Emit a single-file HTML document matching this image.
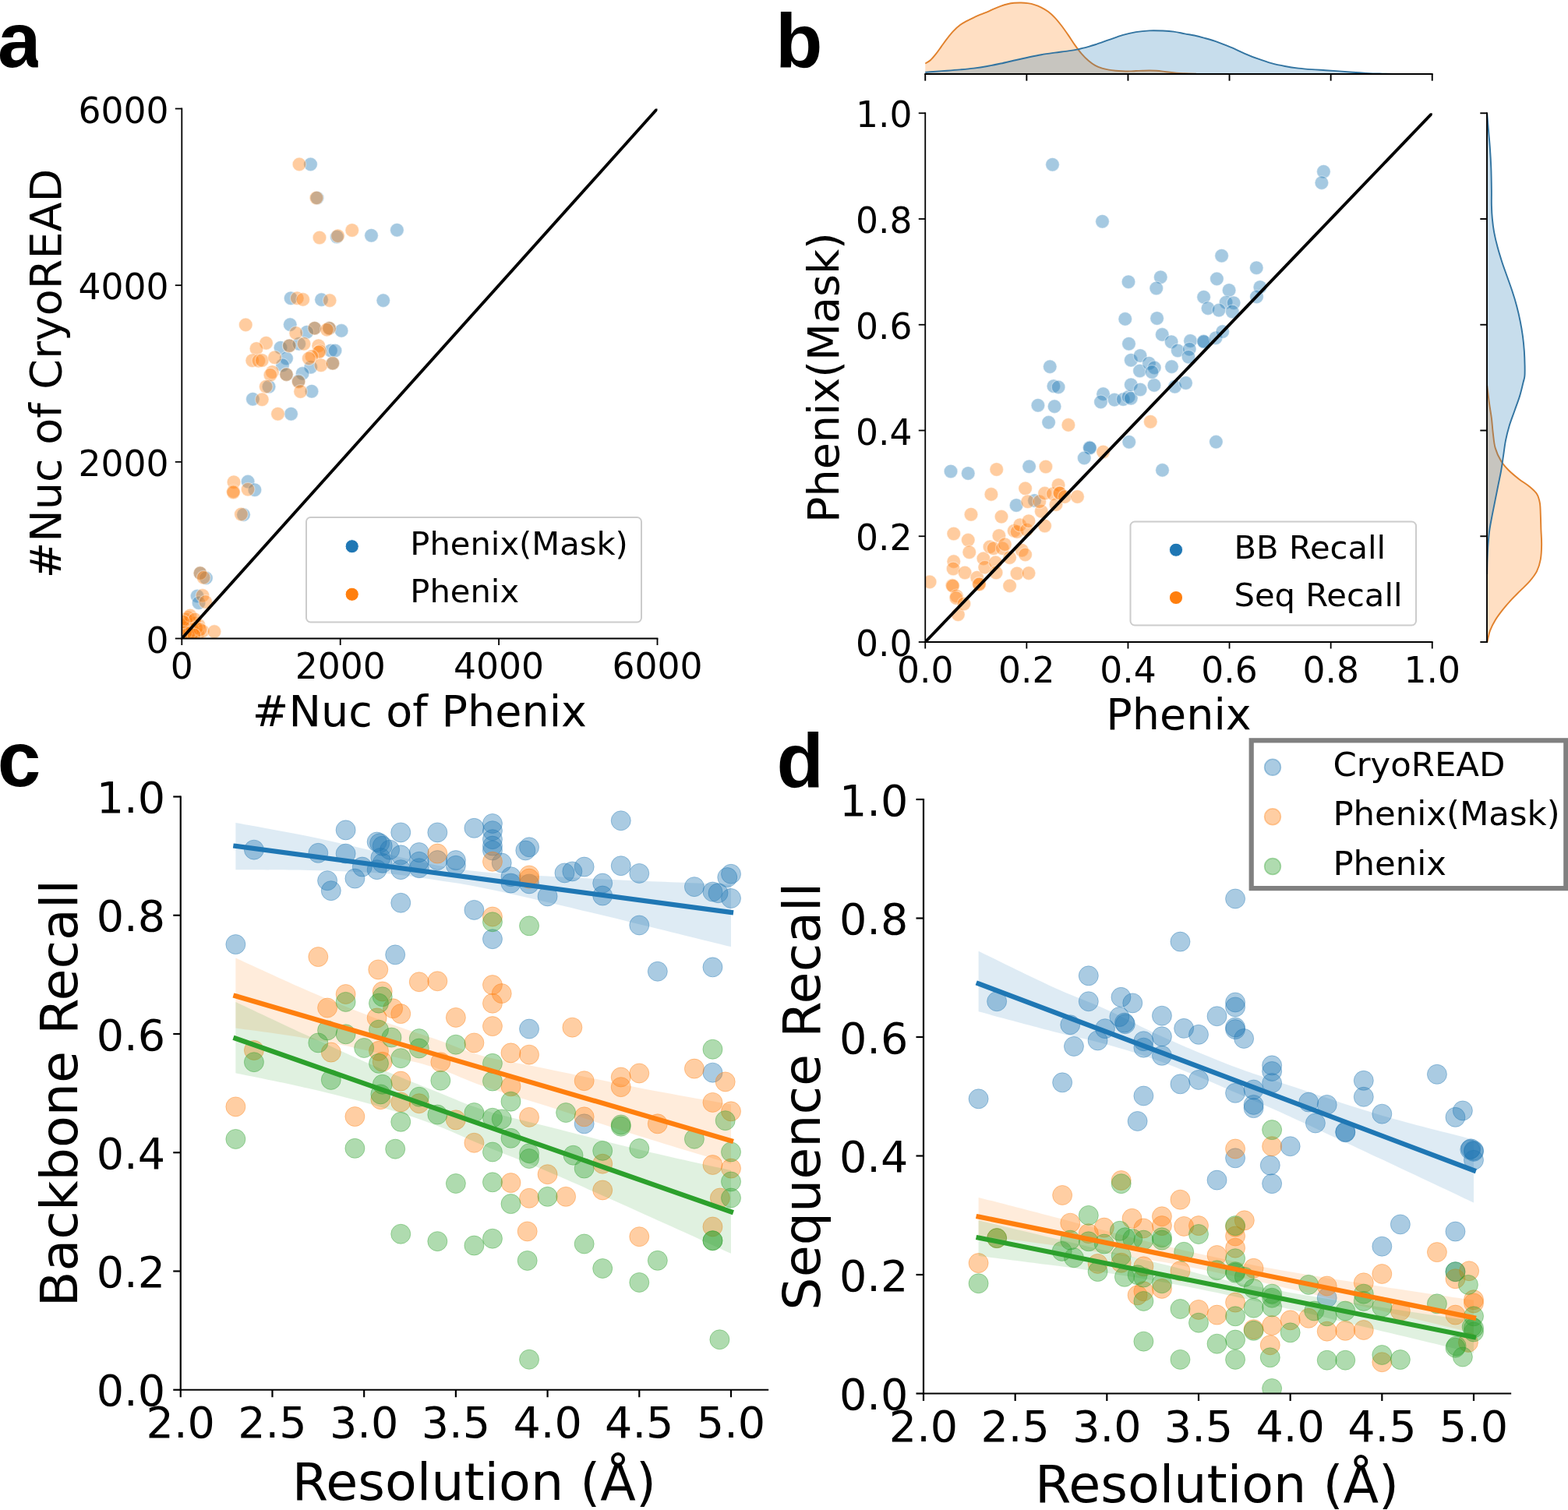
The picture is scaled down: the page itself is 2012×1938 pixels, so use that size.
<!DOCTYPE html>
<html lang="en"><head><meta charset="utf-8"><title>Figure</title>
<style>
html,body{margin:0;padding:0;background:#fff;}
body{width:2012px;height:1938px;overflow:hidden;}
svg{display:block;}
text{font-family:'DejaVu Sans','Liberation Sans',sans-serif;fill:#000;}
</style></head><body>
<svg width="2012" height="1938" viewBox="0 0 2012 1938">
<rect width="2012" height="1938" fill="#fff"/>
<clipPath id="cla"><rect x="-10" y="0" width="58.8" height="120"/></clipPath>
<text x="-3" y="86" font-size="100" text-anchor="start" font-weight="bold" style="font-family:'Liberation Sans','DejaVu Sans',sans-serif" clip-path="url(#cla)">a</text>
<text x="995" y="86.4" font-size="99" text-anchor="start" font-weight="bold" style="font-family:'Liberation Sans','DejaVu Sans',sans-serif">b</text>
<text x="-3.3" y="1009.4" font-size="100" text-anchor="start" font-weight="bold" style="font-family:'Liberation Sans','DejaVu Sans',sans-serif">c</text>
<text x="996.4" y="1009.6" font-size="99" text-anchor="start" font-weight="bold" style="font-family:'Liberation Sans','DejaVu Sans',sans-serif">d</text>
<clipPath id="cl1"><rect x="233.3" y="139.5" width="610.2" height="680"/></clipPath>
<g fill="#1f77b4" fill-opacity="0.4" stroke="#fff" stroke-width="1.2" stroke-opacity="0.4" clip-path="url(#cl1)">
<circle cx="403.75" cy="421.25" r="8.8"/>
<circle cx="422.5" cy="421.25" r="8.8"/>
<circle cx="426.9" cy="466.25" r="8.8"/>
<circle cx="398.5" cy="210.9" r="8.8"/>
<circle cx="407" cy="254" r="8.8"/>
<circle cx="432.25" cy="304" r="8.8"/>
<circle cx="476.5" cy="302.25" r="8.8"/>
<circle cx="509.4" cy="295.25" r="8.8"/>
<circle cx="373.1" cy="382.75" r="8.8"/>
<circle cx="412.5" cy="384.6" r="8.8"/>
<circle cx="491.75" cy="385.6" r="8.8"/>
<circle cx="372.25" cy="416.6" r="8.8"/>
<circle cx="438.1" cy="424.4" r="8.8"/>
<circle cx="393.75" cy="426.25" r="8.8"/>
<circle cx="360" cy="446.25" r="8.8"/>
<circle cx="371.25" cy="443.75" r="8.8"/>
<circle cx="383.75" cy="441.25" r="8.8"/>
<circle cx="424.4" cy="450" r="8.8"/>
<circle cx="430" cy="450" r="8.8"/>
<circle cx="367.5" cy="460" r="8.8"/>
<circle cx="362.5" cy="468.75" r="8.8"/>
<circle cx="398.75" cy="471.25" r="8.8"/>
<circle cx="388.1" cy="479.4" r="8.8"/>
<circle cx="367.5" cy="480.6" r="8.8"/>
<circle cx="383.1" cy="489" r="8.8"/>
<circle cx="345" cy="496.25" r="8.8"/>
<circle cx="400" cy="502.25" r="8.8"/>
<circle cx="324.4" cy="512.25" r="8.8"/>
<circle cx="373.5" cy="531.25" r="8.8"/>
<circle cx="318.1" cy="618.1" r="8.8"/>
<circle cx="326.9" cy="628.75" r="8.8"/>
<circle cx="312.5" cy="660.6" r="8.8"/>
<circle cx="256.9" cy="735.6" r="8.8"/>
<circle cx="264.4" cy="741.9" r="8.8"/>
<circle cx="253.1" cy="765" r="8.8"/>
<circle cx="255" cy="773.75" r="8.8"/>
</g>
<clipPath id="cl2"><rect x="233.3" y="139.5" width="610.2" height="680"/></clipPath>
<g fill="#ff7f0e" fill-opacity="0.4" stroke="#fff" stroke-width="1.2" stroke-opacity="0.4" clip-path="url(#cl2)">
<circle cx="384" cy="210.9" r="8.8"/>
<circle cx="406" cy="254" r="8.8"/>
<circle cx="410" cy="305" r="8.8"/>
<circle cx="433.5" cy="302.75" r="8.8"/>
<circle cx="451.75" cy="295.5" r="8.8"/>
<circle cx="381.25" cy="382.75" r="8.8"/>
<circle cx="388.75" cy="384.4" r="8.8"/>
<circle cx="423.1" cy="385.6" r="8.8"/>
<circle cx="315.25" cy="416.9" r="8.8"/>
<circle cx="341.5" cy="440.25" r="8.8"/>
<circle cx="329" cy="447.5" r="8.8"/>
<circle cx="323.75" cy="462.75" r="8.8"/>
<circle cx="331.9" cy="463.1" r="8.8"/>
<circle cx="336.25" cy="462.5" r="8.8"/>
<circle cx="352.5" cy="458.75" r="8.8"/>
<circle cx="379.75" cy="427.5" r="8.8"/>
<circle cx="403.75" cy="421.25" r="8.8"/>
<circle cx="422.5" cy="421.25" r="8.8"/>
<circle cx="419.4" cy="423.1" r="8.8"/>
<circle cx="390" cy="441.25" r="8.8"/>
<circle cx="371.25" cy="443.75" r="8.8"/>
<circle cx="408.75" cy="443.75" r="8.8"/>
<circle cx="410.6" cy="450.6" r="8.8"/>
<circle cx="409" cy="452" r="8.8"/>
<circle cx="400" cy="457.5" r="8.8"/>
<circle cx="396.25" cy="460" r="8.8"/>
<circle cx="411.9" cy="468.75" r="8.8"/>
<circle cx="426.9" cy="466.25" r="8.8"/>
<circle cx="349.4" cy="477.5" r="8.8"/>
<circle cx="346.9" cy="481.25" r="8.8"/>
<circle cx="367.5" cy="480.6" r="8.8"/>
<circle cx="383.1" cy="490" r="8.8"/>
<circle cx="341.25" cy="496.25" r="8.8"/>
<circle cx="385.6" cy="502.5" r="8.8"/>
<circle cx="336.25" cy="512.75" r="8.8"/>
<circle cx="356.5" cy="531.25" r="8.8"/>
<circle cx="300" cy="618.75" r="8.8"/>
<circle cx="299.4" cy="630.6" r="8.8"/>
<circle cx="299.4" cy="632" r="8.8"/>
<circle cx="318.1" cy="628.1" r="8.8"/>
<circle cx="309.4" cy="660" r="8.8"/>
<circle cx="256.9" cy="735.6" r="8.8"/>
<circle cx="261.25" cy="741.25" r="8.8"/>
<circle cx="260" cy="764.4" r="8.8"/>
<circle cx="263.75" cy="772.5" r="8.8"/>
<circle cx="241.25" cy="792.5" r="8.8"/>
<circle cx="243.75" cy="797.5" r="8.8"/>
<circle cx="238.75" cy="802.5" r="8.8"/>
<circle cx="250" cy="800" r="8.8"/>
<circle cx="255" cy="802.5" r="8.8"/>
<circle cx="241.25" cy="810" r="8.8"/>
<circle cx="248.75" cy="811.25" r="8.8"/>
<circle cx="253.75" cy="813.75" r="8.8"/>
<circle cx="260" cy="810" r="8.8"/>
<circle cx="275" cy="810.6" r="8.8"/>
<circle cx="237.5" cy="815" r="8.8"/>
<circle cx="245" cy="816.25" r="8.8"/>
<circle cx="236" cy="806" r="8.8"/>
<circle cx="240" cy="800" r="8.8"/>
<circle cx="246" cy="805" r="8.8"/>
<circle cx="239" cy="795" r="8.8"/>
<circle cx="244" cy="790" r="8.8"/>
<circle cx="250" cy="795" r="8.8"/>
<circle cx="247" cy="808" r="8.8"/>
<circle cx="252" cy="806" r="8.8"/>
<circle cx="243" cy="812" r="8.8"/>
<circle cx="257" cy="808" r="8.8"/>
<circle cx="238" cy="812" r="8.8"/>
<circle cx="249" cy="815" r="8.8"/>
<circle cx="235" cy="798" r="8.8"/>
</g>
<clipPath id="clA"><rect x="233.3" y="139.5" width="610.2" height="680"/></clipPath>
<line x1="233.3" y1="819.5" x2="843.5" y2="139.5" stroke="#000" stroke-width="3.9" stroke-linecap="square" clip-path="url(#clA)"/>
<line x1="232.4" y1="819.5" x2="844.4" y2="819.5" stroke="#000" stroke-width="1.8" stroke-linecap="butt"/>
<line x1="233.3" y1="820.4" x2="233.3" y2="138.6" stroke="#000" stroke-width="1.8" stroke-linecap="butt"/>
<line x1="233.3" y1="819.5" x2="233.3" y2="828" stroke="#000" stroke-width="1.8" stroke-linecap="butt"/>
<text x="233.3" y="870.86" font-size="45.6" text-anchor="middle">0</text>
<line x1="436.7" y1="819.5" x2="436.7" y2="828" stroke="#000" stroke-width="1.8" stroke-linecap="butt"/>
<text x="436.7" y="870.86" font-size="45.6" text-anchor="middle">2000</text>
<line x1="640.1" y1="819.5" x2="640.1" y2="828" stroke="#000" stroke-width="1.8" stroke-linecap="butt"/>
<text x="640.1" y="870.86" font-size="45.6" text-anchor="middle">4000</text>
<line x1="843.5" y1="819.5" x2="843.5" y2="828" stroke="#000" stroke-width="1.8" stroke-linecap="butt"/>
<text x="843.5" y="870.86" font-size="45.6" text-anchor="middle">6000</text>
<line x1="224.8" y1="819.5" x2="233.3" y2="819.5" stroke="#000" stroke-width="1.8" stroke-linecap="butt"/>
<text x="216.5" y="837.73" font-size="45.6" text-anchor="end">0</text>
<line x1="224.8" y1="592.83" x2="233.3" y2="592.83" stroke="#000" stroke-width="1.8" stroke-linecap="butt"/>
<text x="216.5" y="611.06" font-size="45.6" text-anchor="end">2000</text>
<line x1="224.8" y1="366.17" x2="233.3" y2="366.17" stroke="#000" stroke-width="1.8" stroke-linecap="butt"/>
<text x="216.5" y="384.39" font-size="45.6" text-anchor="end">4000</text>
<line x1="224.8" y1="139.5" x2="233.3" y2="139.5" stroke="#000" stroke-width="1.8" stroke-linecap="butt"/>
<text x="216.5" y="157.73" font-size="45.6" text-anchor="end">6000</text>
<text x="538.4" y="931.5" font-size="55.56" text-anchor="middle">#Nuc of Phenix</text>
<text x="77.6" y="479.5" font-size="55.56" text-anchor="middle" transform="rotate(-90 77.6 479.5)">#Nuc of CryoREAD</text>
<rect x="393" y="664" width="430" height="134.5" rx="5.5" ry="5.5" fill="#fff" fill-opacity="0.8" stroke="#ccc" stroke-width="2"/>
<circle cx="451.7" cy="701.2" r="8.6" fill="#1f77b4" stroke="#fff" stroke-width="1"/>
<circle cx="451.7" cy="762.75" r="8.6" fill="#ff7f0e" stroke="#fff" stroke-width="1"/>
<text x="526.3" y="711.8" font-size="41.67" text-anchor="start">Phenix(Mask)</text>
<text x="526.3" y="773.3" font-size="41.67" text-anchor="start">Phenix</text>
<path d="M1187.29,81.53 C1188.38,80.81 1191.62,79.22 1193.88,77.19 C1196.13,75.17 1198.5,72.28 1200.82,69.39 C1203.13,66.5 1205.44,63.03 1207.76,59.85 C1210.07,56.67 1212.09,53.63 1214.69,50.31 C1217.3,46.98 1220.48,42.93 1223.37,39.9 C1226.26,36.86 1229.15,34.26 1232.04,32.09 C1234.93,29.92 1237.82,28.48 1240.71,26.89 C1243.61,25.3 1246.5,23.91 1249.39,22.55 C1252.28,21.19 1255.17,19.95 1258.06,18.73 C1260.95,17.52 1263.84,16.51 1266.73,15.27 C1269.63,14.02 1272.52,12.52 1275.41,11.28 C1278.3,10.03 1281.19,8.82 1284.08,7.81 C1286.97,6.79 1289.86,5.87 1292.76,5.2 C1295.65,4.54 1298.54,4.11 1301.43,3.82 C1304.32,3.53 1307.21,3.41 1310.1,3.47 C1312.99,3.53 1315.88,3.73 1318.78,4.16 C1321.67,4.6 1324.56,5.18 1327.45,6.07 C1330.34,6.97 1333.23,8.1 1336.12,9.54 C1339.01,10.99 1341.9,12.58 1344.8,14.74 C1347.69,16.91 1350.58,19.52 1353.47,22.55 C1356.36,25.59 1359.25,29.2 1362.14,32.96 C1365.03,36.72 1367.93,40.91 1370.82,45.1 C1373.71,49.29 1376.6,54.06 1379.49,58.11 C1382.38,62.16 1385.27,66.06 1388.16,69.39 C1391.05,72.71 1393.95,75.6 1396.84,78.06 C1399.73,80.52 1402.62,82.54 1405.51,84.13 C1408.4,85.72 1411.29,86.68 1414.18,87.6 C1417.07,88.53 1419.97,89.16 1422.86,89.68 C1425.75,90.2 1428.64,90.46 1431.53,90.72 C1434.42,90.98 1437.31,91.13 1440.2,91.24 C1443.1,91.36 1445.99,91.45 1448.88,91.42 C1451.77,91.39 1454.66,91.19 1457.55,91.07 C1460.44,90.96 1463.33,90.81 1466.22,90.72 C1469.12,90.64 1472.01,90.55 1474.9,90.55 C1477.79,90.55 1480.68,90.55 1483.57,90.72 C1486.46,90.9 1489.35,91.24 1492.24,91.59 C1495.14,91.94 1498.03,92.46 1500.92,92.81 C1503.81,93.15 1506.41,93.44 1509.59,93.67 C1512.77,93.9 1515.77,94.01 1520,94.19 C1524.23,94.38 1532.5,94.7 1535,94.8 L1535,95.0 L1187.29,95.0 Z" fill="#ff7f0e" fill-opacity="0.25" stroke="none"/>
<path d="M1187.29,81.53 C1188.38,80.81 1191.62,79.22 1193.88,77.19 C1196.13,75.17 1198.5,72.28 1200.82,69.39 C1203.13,66.5 1205.44,63.03 1207.76,59.85 C1210.07,56.67 1212.09,53.63 1214.69,50.31 C1217.3,46.98 1220.48,42.93 1223.37,39.9 C1226.26,36.86 1229.15,34.26 1232.04,32.09 C1234.93,29.92 1237.82,28.48 1240.71,26.89 C1243.61,25.3 1246.5,23.91 1249.39,22.55 C1252.28,21.19 1255.17,19.95 1258.06,18.73 C1260.95,17.52 1263.84,16.51 1266.73,15.27 C1269.63,14.02 1272.52,12.52 1275.41,11.28 C1278.3,10.03 1281.19,8.82 1284.08,7.81 C1286.97,6.79 1289.86,5.87 1292.76,5.2 C1295.65,4.54 1298.54,4.11 1301.43,3.82 C1304.32,3.53 1307.21,3.41 1310.1,3.47 C1312.99,3.53 1315.88,3.73 1318.78,4.16 C1321.67,4.6 1324.56,5.18 1327.45,6.07 C1330.34,6.97 1333.23,8.1 1336.12,9.54 C1339.01,10.99 1341.9,12.58 1344.8,14.74 C1347.69,16.91 1350.58,19.52 1353.47,22.55 C1356.36,25.59 1359.25,29.2 1362.14,32.96 C1365.03,36.72 1367.93,40.91 1370.82,45.1 C1373.71,49.29 1376.6,54.06 1379.49,58.11 C1382.38,62.16 1385.27,66.06 1388.16,69.39 C1391.05,72.71 1393.95,75.6 1396.84,78.06 C1399.73,80.52 1402.62,82.54 1405.51,84.13 C1408.4,85.72 1411.29,86.68 1414.18,87.6 C1417.07,88.53 1419.97,89.16 1422.86,89.68 C1425.75,90.2 1428.64,90.46 1431.53,90.72 C1434.42,90.98 1437.31,91.13 1440.2,91.24 C1443.1,91.36 1445.99,91.45 1448.88,91.42 C1451.77,91.39 1454.66,91.19 1457.55,91.07 C1460.44,90.96 1463.33,90.81 1466.22,90.72 C1469.12,90.64 1472.01,90.55 1474.9,90.55 C1477.79,90.55 1480.68,90.55 1483.57,90.72 C1486.46,90.9 1489.35,91.24 1492.24,91.59 C1495.14,91.94 1498.03,92.46 1500.92,92.81 C1503.81,93.15 1506.41,93.44 1509.59,93.67 C1512.77,93.9 1515.77,94.01 1520,94.19 C1524.23,94.38 1532.5,94.7 1535,94.8" fill="none" stroke="#e1812c" stroke-width="1.9" stroke-linejoin="round"/>
<path d="M1187.29,92.81 C1188.96,92.66 1192.78,92.29 1197.35,91.94 C1201.91,91.59 1208.91,91.16 1214.69,90.72 C1220.48,90.29 1226.26,89.86 1232.04,89.34 C1237.82,88.82 1243.61,88.32 1249.39,87.6 C1255.17,86.88 1260.95,86.01 1266.73,85 C1272.52,83.99 1278.3,82.77 1284.08,81.53 C1289.86,80.29 1295.65,78.84 1301.43,77.54 C1307.21,76.24 1312.99,74.94 1318.78,73.72 C1324.56,72.51 1330.34,71.27 1336.12,70.26 C1341.9,69.24 1347.69,68.46 1353.47,67.65 C1359.25,66.84 1365.9,66.12 1370.82,65.4 C1375.73,64.68 1378.62,64.24 1382.96,63.32 C1387.3,62.39 1393.08,60.86 1396.84,59.85 C1400.6,58.84 1401.17,58.69 1405.51,57.24 C1409.85,55.8 1417.07,53.2 1422.86,51.17 C1428.64,49.15 1434.42,46.78 1440.2,45.1 C1445.99,43.43 1451.77,42.07 1457.55,41.11 C1463.33,40.16 1469.12,39.64 1474.9,39.38 C1480.68,39.12 1487.04,39.35 1492.24,39.55 C1497.45,39.75 1501.43,39.96 1506.12,40.59 C1510.82,41.23 1516,42.56 1520.41,43.37 C1524.81,44.18 1528.5,44.58 1532.55,45.45 C1536.6,46.32 1539.78,47.18 1544.69,48.57 C1549.61,49.96 1556.26,51.75 1562.04,53.78 C1567.82,55.8 1573.61,58.26 1579.39,60.71 C1585.17,63.17 1590.95,66.06 1596.73,68.52 C1602.52,70.98 1608.3,73.35 1614.08,75.46 C1619.86,77.57 1625.65,79.59 1631.43,81.18 C1637.21,82.77 1642.99,83.93 1648.78,85 C1654.56,86.07 1660.34,86.91 1666.12,87.6 C1671.9,88.3 1677.69,88.73 1683.47,89.16 C1689.25,89.6 1695.03,89.83 1700.82,90.2 C1706.6,90.58 1712.38,90.98 1718.16,91.42 C1723.95,91.85 1729.73,92.4 1735.51,92.81 C1741.29,93.21 1747.07,93.56 1752.86,93.85 C1758.64,94.14 1764.42,94.37 1770.2,94.54 C1775.99,94.71 1776.28,94.83 1787.55,94.89 C1798.83,94.95 1829.47,94.89 1837.86,94.89 L1837.86,95.0 L1187.29,95.0 Z" fill="#1f77b4" fill-opacity="0.25" stroke="none"/>
<path d="M1187.29,92.81 C1188.96,92.66 1192.78,92.29 1197.35,91.94 C1201.91,91.59 1208.91,91.16 1214.69,90.72 C1220.48,90.29 1226.26,89.86 1232.04,89.34 C1237.82,88.82 1243.61,88.32 1249.39,87.6 C1255.17,86.88 1260.95,86.01 1266.73,85 C1272.52,83.99 1278.3,82.77 1284.08,81.53 C1289.86,80.29 1295.65,78.84 1301.43,77.54 C1307.21,76.24 1312.99,74.94 1318.78,73.72 C1324.56,72.51 1330.34,71.27 1336.12,70.26 C1341.9,69.24 1347.69,68.46 1353.47,67.65 C1359.25,66.84 1365.9,66.12 1370.82,65.4 C1375.73,64.68 1378.62,64.24 1382.96,63.32 C1387.3,62.39 1393.08,60.86 1396.84,59.85 C1400.6,58.84 1401.17,58.69 1405.51,57.24 C1409.85,55.8 1417.07,53.2 1422.86,51.17 C1428.64,49.15 1434.42,46.78 1440.2,45.1 C1445.99,43.43 1451.77,42.07 1457.55,41.11 C1463.33,40.16 1469.12,39.64 1474.9,39.38 C1480.68,39.12 1487.04,39.35 1492.24,39.55 C1497.45,39.75 1501.43,39.96 1506.12,40.59 C1510.82,41.23 1516,42.56 1520.41,43.37 C1524.81,44.18 1528.5,44.58 1532.55,45.45 C1536.6,46.32 1539.78,47.18 1544.69,48.57 C1549.61,49.96 1556.26,51.75 1562.04,53.78 C1567.82,55.8 1573.61,58.26 1579.39,60.71 C1585.17,63.17 1590.95,66.06 1596.73,68.52 C1602.52,70.98 1608.3,73.35 1614.08,75.46 C1619.86,77.57 1625.65,79.59 1631.43,81.18 C1637.21,82.77 1642.99,83.93 1648.78,85 C1654.56,86.07 1660.34,86.91 1666.12,87.6 C1671.9,88.3 1677.69,88.73 1683.47,89.16 C1689.25,89.6 1695.03,89.83 1700.82,90.2 C1706.6,90.58 1712.38,90.98 1718.16,91.42 C1723.95,91.85 1729.73,92.4 1735.51,92.81 C1741.29,93.21 1747.07,93.56 1752.86,93.85 C1758.64,94.14 1764.42,94.37 1770.2,94.54 C1775.99,94.71 1776.28,94.83 1787.55,94.89 C1798.83,94.95 1829.47,94.89 1837.86,94.89" fill="none" stroke="#3274a1" stroke-width="1.9" stroke-linejoin="round"/>
<path d="M1908.16,494.79 C1908.63,498.6 1910.06,510.68 1911.02,517.67 C1911.97,524.66 1913.08,530.38 1913.88,536.74 C1914.67,543.09 1914.99,549.45 1915.78,555.81 C1916.58,562.16 1916.9,568.83 1918.64,574.87 C1920.39,580.91 1923.41,587.27 1926.27,592.03 C1929.13,596.8 1931.99,599.66 1935.81,603.47 C1939.62,607.29 1944.7,611.42 1949.15,614.92 C1953.6,618.41 1958.69,621.27 1962.5,624.45 C1966.31,627.63 1969.81,630.49 1972.03,633.98 C1974.26,637.48 1975.05,640.97 1975.85,645.42 C1976.64,649.87 1976.55,654.96 1976.8,660.68 C1977.06,666.4 1977.15,673.39 1977.37,679.75 C1977.6,686.1 1978.23,692.46 1978.14,698.81 C1978.04,705.17 1977.82,712.16 1976.8,717.88 C1975.78,723.6 1974.42,728.37 1972.03,733.14 C1969.65,737.9 1966,742.35 1962.5,746.48 C1959,750.61 1954.87,754.11 1951.06,757.92 C1947.25,761.74 1943.43,765.23 1939.62,769.36 C1935.81,773.5 1931.67,778.26 1928.18,782.71 C1924.68,787.16 1921.35,791.61 1918.64,796.06 C1915.94,800.51 1913.56,805.28 1911.97,809.41 C1910.38,813.54 1909.75,818.31 1909.11,820.85 C1908.47,823.39 1908.32,824.03 1908.16,824.66 L1908.0,824.66 L1908.0,494.79 Z" fill="#ff7f0e" fill-opacity="0.25" stroke="none"/>
<path d="M1908.16,494.79 C1908.63,498.6 1910.06,510.68 1911.02,517.67 C1911.97,524.66 1913.08,530.38 1913.88,536.74 C1914.67,543.09 1914.99,549.45 1915.78,555.81 C1916.58,562.16 1916.9,568.83 1918.64,574.87 C1920.39,580.91 1923.41,587.27 1926.27,592.03 C1929.13,596.8 1931.99,599.66 1935.81,603.47 C1939.62,607.29 1944.7,611.42 1949.15,614.92 C1953.6,618.41 1958.69,621.27 1962.5,624.45 C1966.31,627.63 1969.81,630.49 1972.03,633.98 C1974.26,637.48 1975.05,640.97 1975.85,645.42 C1976.64,649.87 1976.55,654.96 1976.8,660.68 C1977.06,666.4 1977.15,673.39 1977.37,679.75 C1977.6,686.1 1978.23,692.46 1978.14,698.81 C1978.04,705.17 1977.82,712.16 1976.8,717.88 C1975.78,723.6 1974.42,728.37 1972.03,733.14 C1969.65,737.9 1966,742.35 1962.5,746.48 C1959,750.61 1954.87,754.11 1951.06,757.92 C1947.25,761.74 1943.43,765.23 1939.62,769.36 C1935.81,773.5 1931.67,778.26 1928.18,782.71 C1924.68,787.16 1921.35,791.61 1918.64,796.06 C1915.94,800.51 1913.56,805.28 1911.97,809.41 C1910.38,813.54 1909.75,818.31 1909.11,820.85 C1908.47,823.39 1908.32,824.03 1908.16,824.66" fill="none" stroke="#e1812c" stroke-width="1.9" stroke-linejoin="round"/>
<path d="M1908.16,145.25 C1908.47,149.07 1909.43,160.51 1910.06,168.14 C1910.7,175.76 1911.43,183.07 1911.97,191.02 C1912.51,198.96 1912.99,206.91 1913.31,215.81 C1913.62,224.7 1913.78,236.46 1913.88,244.41 C1913.97,252.35 1913.72,257.44 1913.88,263.47 C1914.04,269.51 1914.29,274.92 1914.83,280.64 C1915.37,286.36 1916.01,291.76 1917.12,297.8 C1918.23,303.83 1919.82,310.51 1921.5,316.86 C1923.19,323.22 1925.16,329.58 1927.22,335.93 C1929.29,342.29 1931.67,348.64 1933.9,355 C1936.12,361.36 1938.51,367.71 1940.57,374.07 C1942.64,380.42 1944.61,386.78 1946.29,393.14 C1947.98,399.49 1949.41,405.85 1950.68,412.2 C1951.95,418.56 1953.06,424.92 1953.92,431.27 C1954.78,437.63 1955.38,443.98 1955.83,450.34 C1956.27,456.69 1956.49,464 1956.59,469.41 C1956.68,474.81 1956.75,479.16 1956.4,482.75 C1956.05,486.35 1955.54,486.74 1954.49,490.97 C1953.44,495.2 1951.95,502.1 1950.11,508.14 C1948.26,514.17 1945.66,520.85 1943.43,527.2 C1941.21,533.56 1938.67,539.92 1936.76,546.27 C1934.85,552.63 1933.26,558.98 1931.99,565.34 C1930.72,571.69 1930.08,578.05 1929.13,584.41 C1928.18,590.76 1927.38,597.12 1926.27,603.47 C1925.16,609.83 1923.73,616.19 1922.46,622.54 C1921.19,628.9 1919.92,635.25 1918.64,641.61 C1917.37,647.97 1916.04,654.32 1914.83,660.68 C1913.62,667.03 1912.29,673.39 1911.4,679.75 C1910.51,686.1 1909.97,692.46 1909.49,698.81 C1909.01,705.17 1908.76,711.53 1908.54,717.88 C1908.32,724.24 1908.22,733.77 1908.16,736.95 L1908.0,736.95 L1908.0,145.25 Z" fill="#1f77b4" fill-opacity="0.25" stroke="none"/>
<path d="M1908.16,145.25 C1908.47,149.07 1909.43,160.51 1910.06,168.14 C1910.7,175.76 1911.43,183.07 1911.97,191.02 C1912.51,198.96 1912.99,206.91 1913.31,215.81 C1913.62,224.7 1913.78,236.46 1913.88,244.41 C1913.97,252.35 1913.72,257.44 1913.88,263.47 C1914.04,269.51 1914.29,274.92 1914.83,280.64 C1915.37,286.36 1916.01,291.76 1917.12,297.8 C1918.23,303.83 1919.82,310.51 1921.5,316.86 C1923.19,323.22 1925.16,329.58 1927.22,335.93 C1929.29,342.29 1931.67,348.64 1933.9,355 C1936.12,361.36 1938.51,367.71 1940.57,374.07 C1942.64,380.42 1944.61,386.78 1946.29,393.14 C1947.98,399.49 1949.41,405.85 1950.68,412.2 C1951.95,418.56 1953.06,424.92 1953.92,431.27 C1954.78,437.63 1955.38,443.98 1955.83,450.34 C1956.27,456.69 1956.49,464 1956.59,469.41 C1956.68,474.81 1956.75,479.16 1956.4,482.75 C1956.05,486.35 1955.54,486.74 1954.49,490.97 C1953.44,495.2 1951.95,502.1 1950.11,508.14 C1948.26,514.17 1945.66,520.85 1943.43,527.2 C1941.21,533.56 1938.67,539.92 1936.76,546.27 C1934.85,552.63 1933.26,558.98 1931.99,565.34 C1930.72,571.69 1930.08,578.05 1929.13,584.41 C1928.18,590.76 1927.38,597.12 1926.27,603.47 C1925.16,609.83 1923.73,616.19 1922.46,622.54 C1921.19,628.9 1919.92,635.25 1918.64,641.61 C1917.37,647.97 1916.04,654.32 1914.83,660.68 C1913.62,667.03 1912.29,673.39 1911.4,679.75 C1910.51,686.1 1909.97,692.46 1909.49,698.81 C1909.01,705.17 1908.76,711.53 1908.54,717.88 C1908.32,724.24 1908.22,733.77 1908.16,736.95" fill="none" stroke="#3274a1" stroke-width="1.9" stroke-linejoin="round"/>
<line x1="1186.35" y1="95" x2="1838.65" y2="95" stroke="#000" stroke-width="1.9" stroke-linecap="butt"/>
<line x1="1187.25" y1="95" x2="1187.25" y2="103.7" stroke="#000" stroke-width="1.9" stroke-linecap="butt"/>
<line x1="1317.35" y1="95" x2="1317.35" y2="103.7" stroke="#000" stroke-width="1.9" stroke-linecap="butt"/>
<line x1="1447.45" y1="95" x2="1447.45" y2="103.7" stroke="#000" stroke-width="1.9" stroke-linecap="butt"/>
<line x1="1577.55" y1="95" x2="1577.55" y2="103.7" stroke="#000" stroke-width="1.9" stroke-linecap="butt"/>
<line x1="1707.65" y1="95" x2="1707.65" y2="103.7" stroke="#000" stroke-width="1.9" stroke-linecap="butt"/>
<line x1="1837.75" y1="95" x2="1837.75" y2="103.7" stroke="#000" stroke-width="1.9" stroke-linecap="butt"/>
<line x1="1908" y1="824.9" x2="1908" y2="144.35" stroke="#000" stroke-width="1.9" stroke-linecap="butt"/>
<line x1="1899.3" y1="824" x2="1908" y2="824" stroke="#000" stroke-width="1.9" stroke-linecap="butt"/>
<line x1="1899.3" y1="688.25" x2="1908" y2="688.25" stroke="#000" stroke-width="1.9" stroke-linecap="butt"/>
<line x1="1899.3" y1="552.5" x2="1908" y2="552.5" stroke="#000" stroke-width="1.9" stroke-linecap="butt"/>
<line x1="1899.3" y1="416.75" x2="1908" y2="416.75" stroke="#000" stroke-width="1.9" stroke-linecap="butt"/>
<line x1="1899.3" y1="281" x2="1908" y2="281" stroke="#000" stroke-width="1.9" stroke-linecap="butt"/>
<line x1="1899.3" y1="145.25" x2="1908" y2="145.25" stroke="#000" stroke-width="1.9" stroke-linecap="butt"/>
<clipPath id="cl3"><rect x="1187.25" y="145.25" width="650.5" height="678.75"/></clipPath>
<g fill="#1f77b4" fill-opacity="0.4" stroke="#fff" stroke-width="1.2" stroke-opacity="0.4" clip-path="url(#cl3)">
<circle cx="1220" cy="605" r="8.8"/>
<circle cx="1242.25" cy="607.5" r="8.8"/>
<circle cx="1304.1" cy="648.5" r="8.8"/>
<circle cx="1327.5" cy="642.5" r="8.8"/>
<circle cx="1320.6" cy="598.75" r="8.8"/>
<circle cx="1347.25" cy="470.6" r="8.8"/>
<circle cx="1351.9" cy="495.6" r="8.8"/>
<circle cx="1358.1" cy="496.9" r="8.8"/>
<circle cx="1331.9" cy="520.25" r="8.8"/>
<circle cx="1353.1" cy="521.6" r="8.8"/>
<circle cx="1345.6" cy="542.1" r="8.8"/>
<circle cx="1398.1" cy="574.4" r="8.8"/>
<circle cx="1398.5" cy="575" r="8.8"/>
<circle cx="1391.25" cy="587.9" r="8.8"/>
<circle cx="1415.6" cy="505.6" r="8.8"/>
<circle cx="1412.5" cy="515.9" r="8.8"/>
<circle cx="1430" cy="513.1" r="8.8"/>
<circle cx="1441.25" cy="512.5" r="8.8"/>
<circle cx="1448.1" cy="509.4" r="8.8"/>
<circle cx="1451.25" cy="511.25" r="8.8"/>
<circle cx="1451.25" cy="493.75" r="8.8"/>
<circle cx="1463.1" cy="500" r="8.8"/>
<circle cx="1481" cy="494.4" r="8.8"/>
<circle cx="1443.75" cy="409.4" r="8.8"/>
<circle cx="1448.5" cy="441.25" r="8.8"/>
<circle cx="1451.25" cy="462.25" r="8.8"/>
<circle cx="1463.1" cy="456.5" r="8.8"/>
<circle cx="1462.5" cy="476" r="8.8"/>
<circle cx="1474.4" cy="466.25" r="8.8"/>
<circle cx="1481.25" cy="471.9" r="8.8"/>
<circle cx="1478.1" cy="477.5" r="8.8"/>
<circle cx="1484.6" cy="408.5" r="8.8"/>
<circle cx="1491.25" cy="429.4" r="8.8"/>
<circle cx="1503.1" cy="438.75" r="8.8"/>
<circle cx="1503.5" cy="470.6" r="8.8"/>
<circle cx="1511.25" cy="450" r="8.8"/>
<circle cx="1527.5" cy="437.5" r="8.8"/>
<circle cx="1526.25" cy="448.1" r="8.8"/>
<circle cx="1525" cy="458.1" r="8.8"/>
<circle cx="1507.5" cy="496.25" r="8.8"/>
<circle cx="1521.5" cy="491.5" r="8.8"/>
<circle cx="1545" cy="438.75" r="8.8"/>
<circle cx="1544.4" cy="438.1" r="8.8"/>
<circle cx="1560" cy="433.75" r="8.8"/>
<circle cx="1568.75" cy="425.6" r="8.8"/>
<circle cx="1448.75" cy="567.25" r="8.8"/>
<circle cx="1560.4" cy="567.1" r="8.8"/>
<circle cx="1491.5" cy="603.4" r="8.8"/>
<circle cx="1698.4" cy="220.25" r="8.8"/>
<circle cx="1695.9" cy="234.6" r="8.8"/>
<circle cx="1567.6" cy="328.25" r="8.8"/>
<circle cx="1612.25" cy="343.75" r="8.8"/>
<circle cx="1561.4" cy="357.9" r="8.8"/>
<circle cx="1577.1" cy="372.5" r="8.8"/>
<circle cx="1544.6" cy="381.25" r="8.8"/>
<circle cx="1616.9" cy="368.5" r="8.8"/>
<circle cx="1612.5" cy="380.9" r="8.8"/>
<circle cx="1573.1" cy="388.1" r="8.8"/>
<circle cx="1583.1" cy="388.75" r="8.8"/>
<circle cx="1550" cy="395.6" r="8.8"/>
<circle cx="1564" cy="398.1" r="8.8"/>
<circle cx="1581.25" cy="400" r="8.8"/>
<circle cx="1489.25" cy="355.75" r="8.8"/>
<circle cx="1483.75" cy="370" r="8.8"/>
<circle cx="1448" cy="361.75" r="8.8"/>
<circle cx="1350.5" cy="211.25" r="8.8"/>
<circle cx="1414.5" cy="284.25" r="8.8"/>
</g>
<clipPath id="cl4"><rect x="1187.25" y="145.25" width="650.5" height="678.75"/></clipPath>
<g fill="#ff7f0e" fill-opacity="0.4" stroke="#fff" stroke-width="1.2" stroke-opacity="0.4" clip-path="url(#cl4)">
<circle cx="1193.1" cy="746.9" r="8.8"/>
<circle cx="1223.75" cy="685" r="8.8"/>
<circle cx="1223.75" cy="720.6" r="8.8"/>
<circle cx="1223.1" cy="730" r="8.8"/>
<circle cx="1221.9" cy="751.25" r="8.8"/>
<circle cx="1222.5" cy="752" r="8.8"/>
<circle cx="1227.5" cy="765" r="8.8"/>
<circle cx="1226.9" cy="767.5" r="8.8"/>
<circle cx="1229.4" cy="788.75" r="8.8"/>
<circle cx="1236.9" cy="775" r="8.8"/>
<circle cx="1238.1" cy="735" r="8.8"/>
<circle cx="1242.25" cy="693.1" r="8.8"/>
<circle cx="1243.75" cy="708.75" r="8.8"/>
<circle cx="1246" cy="660.25" r="8.8"/>
<circle cx="1253.75" cy="741.25" r="8.8"/>
<circle cx="1256.25" cy="749.4" r="8.8"/>
<circle cx="1256.5" cy="750" r="8.8"/>
<circle cx="1261.9" cy="716.9" r="8.8"/>
<circle cx="1263.75" cy="728.1" r="8.8"/>
<circle cx="1270" cy="701.9" r="8.8"/>
<circle cx="1271.9" cy="634.4" r="8.8"/>
<circle cx="1275" cy="703.75" r="8.8"/>
<circle cx="1277.5" cy="721.9" r="8.8"/>
<circle cx="1278.1" cy="735" r="8.8"/>
<circle cx="1281.9" cy="687.5" r="8.8"/>
<circle cx="1285" cy="663.1" r="8.8"/>
<circle cx="1286.25" cy="703.75" r="8.8"/>
<circle cx="1289.4" cy="698.75" r="8.8"/>
<circle cx="1295.6" cy="751.9" r="8.8"/>
<circle cx="1295.6" cy="715.6" r="8.8"/>
<circle cx="1301.25" cy="681.25" r="8.8"/>
<circle cx="1305" cy="682.5" r="8.8"/>
<circle cx="1305" cy="736" r="8.8"/>
<circle cx="1308.75" cy="673.75" r="8.8"/>
<circle cx="1311.25" cy="706.25" r="8.8"/>
<circle cx="1315.6" cy="711.9" r="8.8"/>
<circle cx="1317.5" cy="680" r="8.8"/>
<circle cx="1320" cy="735.6" r="8.8"/>
<circle cx="1320" cy="668.75" r="8.8"/>
<circle cx="1315.6" cy="626.9" r="8.8"/>
<circle cx="1318.75" cy="643.75" r="8.8"/>
<circle cx="1336.25" cy="656.25" r="8.8"/>
<circle cx="1333.75" cy="643.75" r="8.8"/>
<circle cx="1340.6" cy="633.1" r="8.8"/>
<circle cx="1340.6" cy="675" r="8.8"/>
<circle cx="1351.25" cy="633.75" r="8.8"/>
<circle cx="1355" cy="647.5" r="8.8"/>
<circle cx="1358.1" cy="622.5" r="8.8"/>
<circle cx="1359.4" cy="632.5" r="8.8"/>
<circle cx="1360" cy="633" r="8.8"/>
<circle cx="1366.25" cy="637.5" r="8.8"/>
<circle cx="1382.5" cy="637.5" r="8.8"/>
<circle cx="1278.75" cy="602.5" r="8.8"/>
<circle cx="1341.9" cy="599" r="8.8"/>
<circle cx="1370.9" cy="545.4" r="8.8"/>
<circle cx="1476.25" cy="541.25" r="8.8"/>
<circle cx="1415.6" cy="580" r="8.8"/>
</g>
<clipPath id="clB"><rect x="1187.25" y="145.25" width="650.5" height="678.75"/></clipPath>
<line x1="1187.25" y1="824" x2="1837.75" y2="145.25" stroke="#000" stroke-width="3.9" stroke-linecap="square" clip-path="url(#clB)"/>
<line x1="1186.35" y1="824" x2="1838.65" y2="824" stroke="#000" stroke-width="1.8" stroke-linecap="butt"/>
<line x1="1187.25" y1="824.9" x2="1187.25" y2="144.35" stroke="#000" stroke-width="1.8" stroke-linecap="butt"/>
<line x1="1187.25" y1="824" x2="1187.25" y2="832.5" stroke="#000" stroke-width="1.8" stroke-linecap="butt"/>
<text x="1187.25" y="875.56" font-size="45.6" text-anchor="middle">0.0</text>
<line x1="1317.35" y1="824" x2="1317.35" y2="832.5" stroke="#000" stroke-width="1.8" stroke-linecap="butt"/>
<text x="1317.35" y="875.56" font-size="45.6" text-anchor="middle">0.2</text>
<line x1="1447.45" y1="824" x2="1447.45" y2="832.5" stroke="#000" stroke-width="1.8" stroke-linecap="butt"/>
<text x="1447.45" y="875.56" font-size="45.6" text-anchor="middle">0.4</text>
<line x1="1577.55" y1="824" x2="1577.55" y2="832.5" stroke="#000" stroke-width="1.8" stroke-linecap="butt"/>
<text x="1577.55" y="875.56" font-size="45.6" text-anchor="middle">0.6</text>
<line x1="1707.65" y1="824" x2="1707.65" y2="832.5" stroke="#000" stroke-width="1.8" stroke-linecap="butt"/>
<text x="1707.65" y="875.56" font-size="45.6" text-anchor="middle">0.8</text>
<line x1="1837.75" y1="824" x2="1837.75" y2="832.5" stroke="#000" stroke-width="1.8" stroke-linecap="butt"/>
<text x="1837.75" y="875.56" font-size="45.6" text-anchor="middle">1.0</text>
<line x1="1178.75" y1="824" x2="1187.25" y2="824" stroke="#000" stroke-width="1.8" stroke-linecap="butt"/>
<text x="1170.45" y="842.23" font-size="45.6" text-anchor="end">0.0</text>
<line x1="1178.75" y1="688.25" x2="1187.25" y2="688.25" stroke="#000" stroke-width="1.8" stroke-linecap="butt"/>
<text x="1170.45" y="706.48" font-size="45.6" text-anchor="end">0.2</text>
<line x1="1178.75" y1="552.5" x2="1187.25" y2="552.5" stroke="#000" stroke-width="1.8" stroke-linecap="butt"/>
<text x="1170.45" y="570.73" font-size="45.6" text-anchor="end">0.4</text>
<line x1="1178.75" y1="416.75" x2="1187.25" y2="416.75" stroke="#000" stroke-width="1.8" stroke-linecap="butt"/>
<text x="1170.45" y="434.98" font-size="45.6" text-anchor="end">0.6</text>
<line x1="1178.75" y1="281" x2="1187.25" y2="281" stroke="#000" stroke-width="1.8" stroke-linecap="butt"/>
<text x="1170.45" y="299.23" font-size="45.6" text-anchor="end">0.8</text>
<line x1="1178.75" y1="145.25" x2="1187.25" y2="145.25" stroke="#000" stroke-width="1.8" stroke-linecap="butt"/>
<text x="1170.45" y="163.48" font-size="45.6" text-anchor="end">1.0</text>
<text x="1512.5" y="935.5" font-size="55.56" text-anchor="middle">Phenix</text>
<text x="1076" y="484.62" font-size="55.56" text-anchor="middle" transform="rotate(-90 1076 484.62)">Phenix(Mask)</text>
<rect x="1450.5" y="669.5" width="366.5" height="133" rx="5.5" ry="5.5" fill="#fff" fill-opacity="0.8" stroke="#ccc" stroke-width="2"/>
<circle cx="1509" cy="705.75" r="8.6" fill="#1f77b4" stroke="#fff" stroke-width="1"/>
<circle cx="1509" cy="767" r="8.6" fill="#ff7f0e" stroke="#fff" stroke-width="1"/>
<text x="1583.5" y="716.6" font-size="41.67" text-anchor="start">BB Recall</text>
<text x="1583.5" y="777.8" font-size="41.67" text-anchor="start">Seq Recall</text>
<clipPath id="cl5"><rect x="231.75" y="1022.5" width="753.33" height="761.25"/></clipPath>
<g fill="#1f77b4" fill-opacity="0.38" stroke="#1f77b4" stroke-width="1.0" stroke-opacity="0.38" clip-path="url(#cl5)">
<circle cx="302.37" cy="1212.05" r="12.5"/>
<circle cx="325.92" cy="1090.63" r="12.5"/>
<circle cx="408.31" cy="1094.82" r="12.5"/>
<circle cx="420.08" cy="1130.22" r="12.5"/>
<circle cx="424.79" cy="1143.16" r="12.5"/>
<circle cx="443.62" cy="1065.36" r="12.5"/>
<circle cx="443.62" cy="1095.58" r="12.5"/>
<circle cx="455.4" cy="1127.55" r="12.5"/>
<circle cx="464.81" cy="1112.56" r="12.5"/>
<circle cx="483.65" cy="1080.51" r="12.5"/>
<circle cx="487.18" cy="1082.18" r="12.5"/>
<circle cx="490.71" cy="1085.68" r="12.5"/>
<circle cx="500.13" cy="1090.63" r="12.5"/>
<circle cx="488.35" cy="1100.91" r="12.5"/>
<circle cx="483.65" cy="1116.13" r="12.5"/>
<circle cx="490.71" cy="1107.76" r="12.5"/>
<circle cx="514.25" cy="1068.4" r="12.5"/>
<circle cx="514.25" cy="1097.33" r="12.5"/>
<circle cx="514.25" cy="1116.13" r="12.5"/>
<circle cx="514.25" cy="1158.76" r="12.5"/>
<circle cx="507.19" cy="1225.37" r="12.5"/>
<circle cx="537.79" cy="1094.06" r="12.5"/>
<circle cx="537.79" cy="1105.78" r="12.5"/>
<circle cx="537.79" cy="1114.15" r="12.5"/>
<circle cx="561.33" cy="1068.4" r="12.5"/>
<circle cx="561.33" cy="1104.11" r="12.5"/>
<circle cx="584.88" cy="1104.11" r="12.5"/>
<circle cx="584.88" cy="1110.8" r="12.5"/>
<circle cx="608.42" cy="1062.85" r="12.5"/>
<circle cx="608.42" cy="1167.9" r="12.5"/>
<circle cx="631.96" cy="1056.98" r="12.5"/>
<circle cx="631.96" cy="1066.2" r="12.5"/>
<circle cx="631.96" cy="1077.16" r="12.5"/>
<circle cx="631.96" cy="1085.61" r="12.5"/>
<circle cx="631.96" cy="1091.47" r="12.5"/>
<circle cx="631.96" cy="1205.2" r="12.5"/>
<circle cx="643.73" cy="1107.53" r="12.5"/>
<circle cx="655.5" cy="1125.19" r="12.5"/>
<circle cx="655.5" cy="1133.57" r="12.5"/>
<circle cx="679.04" cy="1087.28" r="12.5"/>
<circle cx="674.33" cy="1091.47" r="12.5"/>
<circle cx="679.04" cy="1134.4" r="12.5"/>
<circle cx="702.58" cy="1150.39" r="12.5"/>
<circle cx="724.48" cy="1120.4" r="12.5"/>
<circle cx="734.36" cy="1118.42" r="12.5"/>
<circle cx="749.67" cy="1112.56" r="12.5"/>
<circle cx="773.21" cy="1133.57" r="12.5"/>
<circle cx="773.21" cy="1149.55" r="12.5"/>
<circle cx="796.75" cy="1053.25" r="12.5"/>
<circle cx="796.75" cy="1111.19" r="12.5"/>
<circle cx="820.29" cy="1120.93" r="12.5"/>
<circle cx="820.29" cy="1187.46" r="12.5"/>
<circle cx="843.83" cy="1246.76" r="12.5"/>
<circle cx="890.92" cy="1138.13" r="12.5"/>
<circle cx="914.46" cy="1144.53" r="12.5"/>
<circle cx="921.52" cy="1146.2" r="12.5"/>
<circle cx="914.46" cy="1241.36" r="12.5"/>
<circle cx="938" cy="1121.77" r="12.5"/>
<circle cx="933.29" cy="1126.03" r="12.5"/>
<circle cx="938" cy="1152.98" r="12.5"/>
<circle cx="679.04" cy="1320.53" r="12.5"/>
<circle cx="914.46" cy="1376.63" r="12.5"/>
<circle cx="749.67" cy="1442.33" r="12.5"/>
</g>
<path d="M302.37,1055.99 C318.07,1058.91 365.15,1067.03 396.54,1073.5 C427.93,1079.97 463.24,1088.6 490.71,1094.82 C518.17,1101.04 539.75,1106.74 561.33,1110.8 C582.91,1114.86 596.65,1116.89 620.19,1119.18 C643.73,1121.46 669.23,1122.6 702.58,1124.51 C735.93,1126.41 781.06,1128.82 820.29,1130.6 C859.53,1132.37 918.38,1134.4 938,1135.16 L938,1215.1 C918.38,1210.28 859.53,1195.68 820.29,1186.17 C781.06,1176.65 735.93,1165.74 702.58,1158 C669.23,1150.26 643.73,1144.43 620.19,1139.73 C596.65,1135.04 582.91,1133.01 561.33,1129.84 C539.75,1126.66 518.17,1122.86 490.71,1120.7 C463.24,1118.54 427.93,1117.66 396.54,1116.89 C365.15,1116.13 318.07,1116.26 302.37,1116.13 Z" fill="#1f77b4" fill-opacity="0.15"/>
<clipPath id="cl6"><rect x="231.75" y="1022.5" width="753.33" height="761.25"/></clipPath>
<g fill="#ff7f0e" fill-opacity="0.38" stroke="#ff7f0e" stroke-width="1.0" stroke-opacity="0.38" clip-path="url(#cl6)">
<circle cx="408.31" cy="1228.04" r="12.5"/>
<circle cx="420.08" cy="1293.51" r="12.5"/>
<circle cx="443.62" cy="1276" r="12.5"/>
<circle cx="485.29" cy="1244.4" r="12.5"/>
<circle cx="490.71" cy="1272.49" r="12.5"/>
<circle cx="483.65" cy="1306.45" r="12.5"/>
<circle cx="514.25" cy="1301.12" r="12.5"/>
<circle cx="504.13" cy="1294.27" r="12.5"/>
<circle cx="537.79" cy="1260.24" r="12.5"/>
<circle cx="561.33" cy="1259.25" r="12.5"/>
<circle cx="561.33" cy="1095.58" r="12.5"/>
<circle cx="584.88" cy="1305.91" r="12.5"/>
<circle cx="608.42" cy="1338.42" r="12.5"/>
<circle cx="631.96" cy="1105.78" r="12.5"/>
<circle cx="631.96" cy="1176.5" r="12.5"/>
<circle cx="679.04" cy="1123.44" r="12.5"/>
<circle cx="679.04" cy="1127.55" r="12.5"/>
<circle cx="631.96" cy="1264.12" r="12.5"/>
<circle cx="643.73" cy="1275.08" r="12.5"/>
<circle cx="631.96" cy="1287.72" r="12.5"/>
<circle cx="631.96" cy="1317.1" r="12.5"/>
<circle cx="734.36" cy="1318.63" r="12.5"/>
<circle cx="302.37" cy="1420.41" r="12.5"/>
<circle cx="325.92" cy="1348.01" r="12.5"/>
<circle cx="424.79" cy="1350.6" r="12.5"/>
<circle cx="455.4" cy="1433.04" r="12.5"/>
<circle cx="486" cy="1348.85" r="12.5"/>
<circle cx="490.71" cy="1362.78" r="12.5"/>
<circle cx="514.25" cy="1387.6" r="12.5"/>
<circle cx="488.35" cy="1411.19" r="12.5"/>
<circle cx="514.25" cy="1414.47" r="12.5"/>
<circle cx="537.79" cy="1416.22" r="12.5"/>
<circle cx="565.34" cy="1363.16" r="12.5"/>
<circle cx="584.88" cy="1437.31" r="12.5"/>
<circle cx="608.42" cy="1466.77" r="12.5"/>
<circle cx="655.5" cy="1351.36" r="12.5"/>
<circle cx="679.04" cy="1353.64" r="12.5"/>
<circle cx="655.5" cy="1394.29" r="12.5"/>
<circle cx="679.04" cy="1433.88" r="12.5"/>
<circle cx="749.67" cy="1387.21" r="12.5"/>
<circle cx="749.67" cy="1433.35" r="12.5"/>
<circle cx="796.75" cy="1382.5" r="12.5"/>
<circle cx="796.75" cy="1395.13" r="12.5"/>
<circle cx="820.29" cy="1377.47" r="12.5"/>
<circle cx="843.83" cy="1442.33" r="12.5"/>
<circle cx="890.92" cy="1371.61" r="12.5"/>
<circle cx="914.46" cy="1414.92" r="12.5"/>
<circle cx="930.7" cy="1388.43" r="12.5"/>
<circle cx="938" cy="1426.34" r="12.5"/>
<circle cx="914.46" cy="1495.01" r="12.5"/>
<circle cx="938" cy="1499.58" r="12.5"/>
<circle cx="923.88" cy="1537.49" r="12.5"/>
<circle cx="914.46" cy="1574.48" r="12.5"/>
<circle cx="702.58" cy="1507.19" r="12.5"/>
<circle cx="655.5" cy="1518.07" r="12.5"/>
<circle cx="679.04" cy="1537.79" r="12.5"/>
<circle cx="726.12" cy="1535.81" r="12.5"/>
<circle cx="773.21" cy="1493.71" r="12.5"/>
<circle cx="773.21" cy="1527.44" r="12.5"/>
<circle cx="676.69" cy="1580.42" r="12.5"/>
<circle cx="820.29" cy="1587.2" r="12.5"/>
</g>
<path d="M302.37,1229.56 C318.07,1236.66 365.15,1258.74 396.54,1272.19 C427.93,1285.64 463.24,1299.85 490.71,1310.25 C518.17,1320.66 539.75,1327.06 561.33,1334.61 C582.91,1342.16 596.65,1349.33 620.19,1355.55 C643.73,1361.76 669.23,1365.13 702.58,1371.91 C735.93,1378.7 781.06,1388.66 820.29,1396.27 C859.53,1403.89 918.38,1414.04 938,1417.59 L938,1493.71 C918.38,1487.75 859.53,1470.24 820.29,1457.93 C781.06,1445.63 735.93,1430.53 702.58,1419.87 C669.23,1409.21 643.73,1402.11 620.19,1393.99 C596.65,1385.87 582.91,1378 561.33,1371.15 C539.75,1364.3 518.17,1359.23 490.71,1352.88 C463.24,1346.54 427.93,1338.67 396.54,1333.09 C365.15,1327.51 318.07,1321.67 302.37,1319.39 Z" fill="#ff7f0e" fill-opacity="0.15"/>
<clipPath id="cl7"><rect x="231.75" y="1022.5" width="753.33" height="761.25"/></clipPath>
<g fill="#2ca02c" fill-opacity="0.38" stroke="#2ca02c" stroke-width="1.0" stroke-opacity="0.38" clip-path="url(#cl7)">
<circle cx="443.62" cy="1285.89" r="12.5"/>
<circle cx="490.71" cy="1279.27" r="12.5"/>
<circle cx="486" cy="1287.64" r="12.5"/>
<circle cx="420.08" cy="1322.43" r="12.5"/>
<circle cx="408.31" cy="1338.42" r="12.5"/>
<circle cx="443.62" cy="1327.3" r="12.5"/>
<circle cx="486" cy="1321.67" r="12.5"/>
<circle cx="502.48" cy="1331.57" r="12.5"/>
<circle cx="537.79" cy="1333.09" r="12.5"/>
<circle cx="537.79" cy="1345.5" r="12.5"/>
<circle cx="584.88" cy="1340.7" r="12.5"/>
<circle cx="467.17" cy="1344.97" r="12.5"/>
<circle cx="302.37" cy="1461.97" r="12.5"/>
<circle cx="325.92" cy="1363.16" r="12.5"/>
<circle cx="424.79" cy="1385.92" r="12.5"/>
<circle cx="486" cy="1364.83" r="12.5"/>
<circle cx="514.25" cy="1358.14" r="12.5"/>
<circle cx="490.71" cy="1391.78" r="12.5"/>
<circle cx="488.35" cy="1404.42" r="12.5"/>
<circle cx="514.25" cy="1439.82" r="12.5"/>
<circle cx="537.79" cy="1407.77" r="12.5"/>
<circle cx="565.34" cy="1386.76" r="12.5"/>
<circle cx="561.33" cy="1430.53" r="12.5"/>
<circle cx="608.42" cy="1428.02" r="12.5"/>
<circle cx="455.4" cy="1473.85" r="12.5"/>
<circle cx="507.19" cy="1474.68" r="12.5"/>
<circle cx="584.88" cy="1518.99" r="12.5"/>
<circle cx="514.25" cy="1583.77" r="12.5"/>
<circle cx="561.33" cy="1593.13" r="12.5"/>
<circle cx="608.42" cy="1598.54" r="12.5"/>
<circle cx="631.96" cy="1183.28" r="12.5"/>
<circle cx="679.04" cy="1188.3" r="12.5"/>
<circle cx="914.46" cy="1346.72" r="12.5"/>
<circle cx="631.96" cy="1364.83" r="12.5"/>
<circle cx="631.96" cy="1387.6" r="12.5"/>
<circle cx="655.5" cy="1413.71" r="12.5"/>
<circle cx="631.96" cy="1434.72" r="12.5"/>
<circle cx="643.73" cy="1436.39" r="12.5"/>
<circle cx="631.96" cy="1478.49" r="12.5"/>
<circle cx="655.5" cy="1460.83" r="12.5"/>
<circle cx="679.04" cy="1480.24" r="12.5"/>
<circle cx="679.04" cy="1487.01" r="12.5"/>
<circle cx="726.12" cy="1428.02" r="12.5"/>
<circle cx="735.54" cy="1482.75" r="12.5"/>
<circle cx="749.67" cy="1499.58" r="12.5"/>
<circle cx="773.21" cy="1476.89" r="12.5"/>
<circle cx="796.75" cy="1445.68" r="12.5"/>
<circle cx="796.75" cy="1443.47" r="12.5"/>
<circle cx="820.29" cy="1474" r="12.5"/>
<circle cx="890.92" cy="1461.74" r="12.5"/>
<circle cx="930.7" cy="1438.14" r="12.5"/>
<circle cx="938" cy="1478.49" r="12.5"/>
<circle cx="938" cy="1516.48" r="12.5"/>
<circle cx="938" cy="1537.49" r="12.5"/>
<circle cx="914.46" cy="1592.22" r="12.5"/>
<circle cx="914.46" cy="1592.22" r="12.5"/>
<circle cx="631.96" cy="1517.31" r="12.5"/>
<circle cx="655.5" cy="1545.1" r="12.5"/>
<circle cx="702.58" cy="1535.81" r="12.5"/>
<circle cx="631.96" cy="1589.71" r="12.5"/>
<circle cx="749.67" cy="1596.48" r="12.5"/>
<circle cx="676.69" cy="1617.95" r="12.5"/>
<circle cx="843.83" cy="1617.8" r="12.5"/>
<circle cx="773.21" cy="1628" r="12.5"/>
<circle cx="820.29" cy="1645.96" r="12.5"/>
<circle cx="923.4" cy="1719.27" r="12.5"/>
<circle cx="679.04" cy="1744.77" r="12.5"/>
</g>
<path d="M302.37,1285.89 C318.07,1293.25 365.15,1315.58 396.54,1330.05 C427.93,1344.51 463.24,1360.75 490.71,1372.67 C518.17,1384.6 539.75,1392.97 561.33,1401.6 C582.91,1410.23 596.65,1417.08 620.19,1424.44 C643.73,1431.8 669.23,1437.25 702.58,1445.76 C735.93,1454.26 781.06,1466.05 820.29,1475.44 C859.53,1484.83 918.38,1497.65 938,1502.09 L938,1608.66 C918.38,1599.78 859.53,1572.88 820.29,1555.38 C781.06,1537.87 735.93,1517.82 702.58,1503.61 C669.23,1489.4 643.73,1479.88 620.19,1470.12 C596.65,1460.35 582.91,1453.11 561.33,1444.99 C539.75,1436.87 518.17,1429.39 490.71,1421.39 C463.24,1413.4 427.93,1404.39 396.54,1397.03 C365.15,1389.68 318.07,1380.54 302.37,1377.24 Z" fill="#2ca02c" fill-opacity="0.15"/>
<line x1="302.37" y1="1085.91" x2="938" y2="1170.94" stroke="#1f77b4" stroke-width="6.2" stroke-linecap="square"/>
<line x1="302.37" y1="1278.28" x2="938" y2="1464.03" stroke="#ff7f0e" stroke-width="6.2" stroke-linecap="square"/>
<line x1="302.37" y1="1332.79" x2="938" y2="1555.22" stroke="#2ca02c" stroke-width="6.2" stroke-linecap="square"/>
<line x1="230.65" y1="1783.75" x2="986.18" y2="1783.75" stroke="#000" stroke-width="2.2" stroke-linecap="butt"/>
<line x1="231.75" y1="1784.85" x2="231.75" y2="1021.4" stroke="#000" stroke-width="2.2" stroke-linecap="butt"/>
<line x1="231.75" y1="1783.75" x2="231.75" y2="1793.25" stroke="#000" stroke-width="2.2" stroke-linecap="butt"/>
<text x="231.75" y="1845.48" font-size="55.56" text-anchor="middle">2.0</text>
<line x1="349.46" y1="1783.75" x2="349.46" y2="1793.25" stroke="#000" stroke-width="2.2" stroke-linecap="butt"/>
<text x="349.46" y="1845.48" font-size="55.56" text-anchor="middle">2.5</text>
<line x1="467.17" y1="1783.75" x2="467.17" y2="1793.25" stroke="#000" stroke-width="2.2" stroke-linecap="butt"/>
<text x="467.17" y="1845.48" font-size="55.56" text-anchor="middle">3.0</text>
<line x1="584.88" y1="1783.75" x2="584.88" y2="1793.25" stroke="#000" stroke-width="2.2" stroke-linecap="butt"/>
<text x="584.88" y="1845.48" font-size="55.56" text-anchor="middle">3.5</text>
<line x1="702.58" y1="1783.75" x2="702.58" y2="1793.25" stroke="#000" stroke-width="2.2" stroke-linecap="butt"/>
<text x="702.58" y="1845.48" font-size="55.56" text-anchor="middle">4.0</text>
<line x1="820.29" y1="1783.75" x2="820.29" y2="1793.25" stroke="#000" stroke-width="2.2" stroke-linecap="butt"/>
<text x="820.29" y="1845.48" font-size="55.56" text-anchor="middle">4.5</text>
<line x1="938" y1="1783.75" x2="938" y2="1793.25" stroke="#000" stroke-width="2.2" stroke-linecap="butt"/>
<text x="938" y="1845.48" font-size="55.56" text-anchor="middle">5.0</text>
<line x1="222.25" y1="1783.75" x2="231.75" y2="1783.75" stroke="#000" stroke-width="2.2" stroke-linecap="butt"/>
<text x="212.05" y="1804.36" font-size="55.56" text-anchor="end">0.0</text>
<line x1="222.25" y1="1631.5" x2="231.75" y2="1631.5" stroke="#000" stroke-width="2.2" stroke-linecap="butt"/>
<text x="212.05" y="1652.11" font-size="55.56" text-anchor="end">0.2</text>
<line x1="222.25" y1="1479.25" x2="231.75" y2="1479.25" stroke="#000" stroke-width="2.2" stroke-linecap="butt"/>
<text x="212.05" y="1499.86" font-size="55.56" text-anchor="end">0.4</text>
<line x1="222.25" y1="1327" x2="231.75" y2="1327" stroke="#000" stroke-width="2.2" stroke-linecap="butt"/>
<text x="212.05" y="1347.61" font-size="55.56" text-anchor="end">0.6</text>
<line x1="222.25" y1="1174.75" x2="231.75" y2="1174.75" stroke="#000" stroke-width="2.2" stroke-linecap="butt"/>
<text x="212.05" y="1195.36" font-size="55.56" text-anchor="end">0.8</text>
<line x1="222.25" y1="1022.5" x2="231.75" y2="1022.5" stroke="#000" stroke-width="2.2" stroke-linecap="butt"/>
<text x="212.05" y="1043.11" font-size="55.56" text-anchor="end">1.0</text>
<text x="608.42" y="1924.5" font-size="66.67" text-anchor="middle">Resolution (Å)</text>
<text x="98.9" y="1403.12" font-size="66.67" text-anchor="middle" transform="rotate(-90 98.9 1403.12)">Backbone Recall</text>
<clipPath id="cl8"><rect x="1185" y="1026" width="753.07" height="762.5"/></clipPath>
<g fill="#1f77b4" fill-opacity="0.38" stroke="#1f77b4" stroke-width="1.0" stroke-opacity="0.38" clip-path="url(#cl8)">
<circle cx="1255.6" cy="1410.3" r="12.5"/>
<circle cx="1279.13" cy="1285.25" r="12.5"/>
<circle cx="1363.15" cy="1389.33" r="12.5"/>
<circle cx="1373.27" cy="1315.22" r="12.5"/>
<circle cx="1377.97" cy="1342.97" r="12.5"/>
<circle cx="1396.8" cy="1252.31" r="12.5"/>
<circle cx="1396.8" cy="1285.25" r="12.5"/>
<circle cx="1408.57" cy="1335.42" r="12.5"/>
<circle cx="1417.98" cy="1320.17" r="12.5"/>
<circle cx="1438.45" cy="1279.84" r="12.5"/>
<circle cx="1453.28" cy="1287.38" r="12.5"/>
<circle cx="1436.34" cy="1305.08" r="12.5"/>
<circle cx="1442.93" cy="1312.62" r="12.5"/>
<circle cx="1443.87" cy="1314.22" r="12.5"/>
<circle cx="1467.4" cy="1336.18" r="12.5"/>
<circle cx="1467.4" cy="1344.65" r="12.5"/>
<circle cx="1490.93" cy="1303.7" r="12.5"/>
<circle cx="1490.93" cy="1330.31" r="12.5"/>
<circle cx="1490.93" cy="1354.79" r="12.5"/>
<circle cx="1514.47" cy="1208.62" r="12.5"/>
<circle cx="1519.17" cy="1319.87" r="12.5"/>
<circle cx="1538" cy="1327.8" r="12.5"/>
<circle cx="1561.53" cy="1304.24" r="12.5"/>
<circle cx="1514.47" cy="1391.31" r="12.5"/>
<circle cx="1538" cy="1385.9" r="12.5"/>
<circle cx="1467.4" cy="1406.49" r="12.5"/>
<circle cx="1459.63" cy="1438.97" r="12.5"/>
<circle cx="1585.07" cy="1153.49" r="12.5"/>
<circle cx="1585.07" cy="1286.47" r="12.5"/>
<circle cx="1585.07" cy="1292.42" r="12.5"/>
<circle cx="1585.07" cy="1318.5" r="12.5"/>
<circle cx="1585.07" cy="1321.09" r="12.5"/>
<circle cx="1596.13" cy="1332.91" r="12.5"/>
<circle cx="1632.13" cy="1367.37" r="12.5"/>
<circle cx="1632.13" cy="1375" r="12.5"/>
<circle cx="1632.13" cy="1390.09" r="12.5"/>
<circle cx="1585.07" cy="1402.83" r="12.5"/>
<circle cx="1608.6" cy="1398.56" r="12.5"/>
<circle cx="1608.6" cy="1417.92" r="12.5"/>
<circle cx="1608.6" cy="1422.12" r="12.5"/>
<circle cx="1679.2" cy="1414.57" r="12.5"/>
<circle cx="1702.73" cy="1417.92" r="12.5"/>
<circle cx="1749.8" cy="1386.82" r="12.5"/>
<circle cx="1749.8" cy="1407.78" r="12.5"/>
<circle cx="1773.33" cy="1429.67" r="12.5"/>
<circle cx="1843.93" cy="1378.81" r="12.5"/>
<circle cx="1876.88" cy="1425.47" r="12.5"/>
<circle cx="1867.47" cy="1433.86" r="12.5"/>
<circle cx="1687.91" cy="1441.49" r="12.5"/>
<circle cx="1726.27" cy="1453.31" r="12.5"/>
<circle cx="1726.27" cy="1452.62" r="12.5"/>
<circle cx="1561.53" cy="1514.61" r="12.5"/>
<circle cx="1585.07" cy="1486.32" r="12.5"/>
<circle cx="1655.67" cy="1471.22" r="12.5"/>
<circle cx="1629.78" cy="1495.62" r="12.5"/>
<circle cx="1632.13" cy="1519.18" r="12.5"/>
<circle cx="1796.87" cy="1571.42" r="12.5"/>
<circle cx="1773.33" cy="1599.7" r="12.5"/>
<circle cx="1867.47" cy="1580.57" r="12.5"/>
<circle cx="1867.47" cy="1632.19" r="12.5"/>
<circle cx="1702.73" cy="1665.74" r="12.5"/>
<circle cx="1886.29" cy="1475.42" r="12.5"/>
<circle cx="1891" cy="1477.93" r="12.5"/>
<circle cx="1891" cy="1488.84" r="12.5"/>
<circle cx="1887.47" cy="1474.35" r="12.5"/>
<circle cx="1891" cy="1476.64" r="12.5"/>
</g>
<path d="M1255.6,1220.82 C1271.29,1228.38 1322.28,1253.67 1349.73,1266.19 C1377.19,1278.71 1396.8,1285.25 1420.33,1295.92 C1443.87,1306.6 1465.16,1318.61 1490.93,1330.24 C1516.7,1341.87 1547.49,1355.15 1574.95,1365.69 C1602.4,1376.24 1622.6,1382.53 1655.67,1393.53 C1688.73,1404.52 1734.11,1420.12 1773.33,1431.65 C1812.56,1443.18 1871.39,1457.51 1891,1462.68 L1891,1543.59 C1871.39,1534.33 1812.56,1506.48 1773.33,1488.08 C1734.11,1469.67 1688.73,1448.23 1655.67,1433.17 C1622.6,1418.12 1602.4,1409.41 1574.95,1397.72 C1547.49,1386.03 1516.7,1372.57 1490.93,1363.03 C1465.16,1353.48 1443.87,1347.06 1420.33,1340.45 C1396.8,1333.85 1377.19,1330.39 1349.73,1323.38 C1322.28,1316.36 1271.29,1302.53 1255.6,1298.37 Z" fill="#1f77b4" fill-opacity="0.15"/>
<clipPath id="cl9"><rect x="1185" y="1026" width="753.07" height="762.5"/></clipPath>
<g fill="#ff7f0e" fill-opacity="0.38" stroke="#ff7f0e" stroke-width="1.0" stroke-opacity="0.38" clip-path="url(#cl9)">
<circle cx="1255.6" cy="1621.06" r="12.5"/>
<circle cx="1279.13" cy="1589.11" r="12.5"/>
<circle cx="1363.15" cy="1533.98" r="12.5"/>
<circle cx="1373.27" cy="1569.66" r="12.5"/>
<circle cx="1396.8" cy="1583.16" r="12.5"/>
<circle cx="1416.8" cy="1575.61" r="12.5"/>
<circle cx="1438.69" cy="1514.99" r="12.5"/>
<circle cx="1452.57" cy="1563.79" r="12.5"/>
<circle cx="1467.4" cy="1576.45" r="12.5"/>
<circle cx="1490.93" cy="1561.28" r="12.5"/>
<circle cx="1490.93" cy="1573.09" r="12.5"/>
<circle cx="1514.47" cy="1539.7" r="12.5"/>
<circle cx="1519.17" cy="1573.93" r="12.5"/>
<circle cx="1538" cy="1573.09" r="12.5"/>
<circle cx="1561.53" cy="1610.99" r="12.5"/>
<circle cx="1467.4" cy="1625.33" r="12.5"/>
<circle cx="1514.47" cy="1631.2" r="12.5"/>
<circle cx="1459.63" cy="1662.31" r="12.5"/>
<circle cx="1467.4" cy="1657.27" r="12.5"/>
<circle cx="1490.93" cy="1653.92" r="12.5"/>
<circle cx="1538" cy="1680.91" r="12.5"/>
<circle cx="1561.53" cy="1687.62" r="12.5"/>
<circle cx="1438.69" cy="1620.75" r="12.5"/>
<circle cx="1408.57" cy="1621.89" r="12.5"/>
<circle cx="1585.07" cy="1474.5" r="12.5"/>
<circle cx="1632.13" cy="1471.22" r="12.5"/>
<circle cx="1596.83" cy="1566.31" r="12.5"/>
<circle cx="1585.07" cy="1574.69" r="12.5"/>
<circle cx="1585.07" cy="1586.51" r="12.5"/>
<circle cx="1585.07" cy="1601.69" r="12.5"/>
<circle cx="1608.6" cy="1627.77" r="12.5"/>
<circle cx="1585.07" cy="1671.61" r="12.5"/>
<circle cx="1843.93" cy="1607.1" r="12.5"/>
<circle cx="1773.33" cy="1635.01" r="12.5"/>
<circle cx="1749.8" cy="1646.29" r="12.5"/>
<circle cx="1702.73" cy="1650.49" r="12.5"/>
<circle cx="1885.12" cy="1631.2" r="12.5"/>
<circle cx="1867.47" cy="1641.26" r="12.5"/>
<circle cx="1891" cy="1668.18" r="12.5"/>
<circle cx="1891" cy="1672.45" r="12.5"/>
<circle cx="1796.87" cy="1682.51" r="12.5"/>
<circle cx="1867.47" cy="1687.62" r="12.5"/>
<circle cx="1655.67" cy="1694.33" r="12.5"/>
<circle cx="1679.2" cy="1691.82" r="12.5"/>
<circle cx="1632.13" cy="1701.12" r="12.5"/>
<circle cx="1702.73" cy="1708.67" r="12.5"/>
<circle cx="1726.27" cy="1707.83" r="12.5"/>
<circle cx="1749.8" cy="1706.99" r="12.5"/>
<circle cx="1608.6" cy="1706.15" r="12.5"/>
<circle cx="1629.78" cy="1726.28" r="12.5"/>
<circle cx="1773.33" cy="1748.24" r="12.5"/>
<circle cx="1883.94" cy="1722.92" r="12.5"/>
</g>
<path d="M1255.6,1536.88 C1271.29,1540.94 1322.28,1554.09 1349.73,1561.28 C1377.19,1568.46 1396.8,1573.86 1420.33,1579.96 C1443.87,1586.06 1465.16,1591.71 1490.93,1597.88 C1516.7,1604.04 1547.49,1611.22 1574.95,1616.94 C1602.4,1622.66 1622.6,1626.47 1655.67,1632.19 C1688.73,1637.91 1734.11,1645.15 1773.33,1651.25 C1812.56,1657.35 1871.39,1665.86 1891,1668.79 L1891,1710.72 C1871.39,1706.02 1812.56,1691.92 1773.33,1682.51 C1734.11,1673.11 1688.73,1662.05 1655.67,1654.3 C1622.6,1646.55 1602.4,1641.78 1574.95,1636 C1547.49,1630.22 1516.7,1624.18 1490.93,1619.61 C1465.16,1615.03 1443.87,1612.17 1420.33,1608.55 C1396.8,1604.93 1377.19,1601.69 1349.73,1597.88 C1322.28,1594.06 1271.29,1587.71 1255.6,1585.67 Z" fill="#ff7f0e" fill-opacity="0.15"/>
<clipPath id="cl10"><rect x="1185" y="1026" width="753.07" height="762.5"/></clipPath>
<g fill="#2ca02c" fill-opacity="0.38" stroke="#2ca02c" stroke-width="1.0" stroke-opacity="0.38" clip-path="url(#cl10)">
<circle cx="1255.6" cy="1647.21" r="12.5"/>
<circle cx="1279.13" cy="1589.11" r="12.5"/>
<circle cx="1396.8" cy="1559.9" r="12.5"/>
<circle cx="1373.27" cy="1591.62" r="12.5"/>
<circle cx="1362.68" cy="1605.88" r="12.5"/>
<circle cx="1377.97" cy="1614.27" r="12.5"/>
<circle cx="1396.8" cy="1593.3" r="12.5"/>
<circle cx="1416.8" cy="1596.58" r="12.5"/>
<circle cx="1408.57" cy="1632.04" r="12.5"/>
<circle cx="1436.81" cy="1579.8" r="12.5"/>
<circle cx="1438.69" cy="1519.18" r="12.5"/>
<circle cx="1443.87" cy="1588.19" r="12.5"/>
<circle cx="1453.28" cy="1589.94" r="12.5"/>
<circle cx="1438.69" cy="1611.83" r="12.5"/>
<circle cx="1442.93" cy="1638.82" r="12.5"/>
<circle cx="1459.63" cy="1636.23" r="12.5"/>
<circle cx="1467.4" cy="1639.58" r="12.5"/>
<circle cx="1467.4" cy="1591.62" r="12.5"/>
<circle cx="1490.93" cy="1588.19" r="12.5"/>
<circle cx="1490.93" cy="1591.62" r="12.5"/>
<circle cx="1490.93" cy="1647.21" r="12.5"/>
<circle cx="1519.17" cy="1606.8" r="12.5"/>
<circle cx="1538" cy="1584" r="12.5"/>
<circle cx="1561.53" cy="1630.28" r="12.5"/>
<circle cx="1467.4" cy="1669.93" r="12.5"/>
<circle cx="1514.47" cy="1680" r="12.5"/>
<circle cx="1538" cy="1697.69" r="12.5"/>
<circle cx="1467.4" cy="1721.63" r="12.5"/>
<circle cx="1561.53" cy="1724.68" r="12.5"/>
<circle cx="1514.47" cy="1744.88" r="12.5"/>
<circle cx="1632.13" cy="1450.1" r="12.5"/>
<circle cx="1585.07" cy="1573.09" r="12.5"/>
<circle cx="1585.07" cy="1615.18" r="12.5"/>
<circle cx="1585.07" cy="1632.19" r="12.5"/>
<circle cx="1585.07" cy="1633.71" r="12.5"/>
<circle cx="1596.83" cy="1638.9" r="12.5"/>
<circle cx="1608.6" cy="1653.92" r="12.5"/>
<circle cx="1632.13" cy="1660.63" r="12.5"/>
<circle cx="1632.13" cy="1665.74" r="12.5"/>
<circle cx="1632.13" cy="1677.48" r="12.5"/>
<circle cx="1608.6" cy="1678.7" r="12.5"/>
<circle cx="1585.07" cy="1689.3" r="12.5"/>
<circle cx="1585.07" cy="1719.57" r="12.5"/>
<circle cx="1608.6" cy="1707.83" r="12.5"/>
<circle cx="1655.67" cy="1710.34" r="12.5"/>
<circle cx="1585.07" cy="1744.88" r="12.5"/>
<circle cx="1629.78" cy="1742.29" r="12.5"/>
<circle cx="1679.2" cy="1648.89" r="12.5"/>
<circle cx="1686.26" cy="1682.51" r="12.5"/>
<circle cx="1702.73" cy="1689.3" r="12.5"/>
<circle cx="1726.27" cy="1682.51" r="12.5"/>
<circle cx="1749.8" cy="1660.63" r="12.5"/>
<circle cx="1749.8" cy="1669.93" r="12.5"/>
<circle cx="1773.33" cy="1677.48" r="12.5"/>
<circle cx="1843.93" cy="1673.29" r="12.5"/>
<circle cx="1867.47" cy="1632.19" r="12.5"/>
<circle cx="1883.94" cy="1648.89" r="12.5"/>
<circle cx="1891" cy="1689.3" r="12.5"/>
<circle cx="1891" cy="1704.4" r="12.5"/>
<circle cx="1891" cy="1709.51" r="12.5"/>
<circle cx="1888.65" cy="1703.1" r="12.5"/>
<circle cx="1867.47" cy="1729.71" r="12.5"/>
<circle cx="1868.64" cy="1727.5" r="12.5"/>
<circle cx="1876.88" cy="1741.53" r="12.5"/>
<circle cx="1702.73" cy="1745.72" r="12.5"/>
<circle cx="1726.27" cy="1745.72" r="12.5"/>
<circle cx="1773.33" cy="1739.01" r="12.5"/>
<circle cx="1796.87" cy="1745.04" r="12.5"/>
<circle cx="1632.13" cy="1782.02" r="12.5"/>
</g>
<path d="M1255.6,1566.31 C1271.29,1570.04 1322.28,1582.19 1349.73,1588.72 C1377.19,1595.26 1396.8,1599.91 1420.33,1605.5 C1443.87,1611.09 1465.16,1615.92 1490.93,1622.28 C1516.7,1628.63 1547.49,1637.53 1574.95,1643.62 C1602.4,1649.72 1622.6,1653.16 1655.67,1658.88 C1688.73,1664.59 1734.11,1671.84 1773.33,1677.94 C1812.56,1684.04 1871.39,1692.55 1891,1695.47 L1891,1736.65 C1871.39,1731.95 1812.56,1717.84 1773.33,1708.44 C1734.11,1699.03 1688.73,1687.98 1655.67,1680.22 C1622.6,1672.47 1602.4,1667.77 1574.95,1661.92 C1547.49,1656.08 1516.7,1649.85 1490.93,1645.15 C1465.16,1640.45 1443.87,1637.27 1420.33,1633.71 C1396.8,1630.15 1377.19,1627.45 1349.73,1623.8 C1322.28,1620.15 1271.29,1613.82 1255.6,1611.83 Z" fill="#2ca02c" fill-opacity="0.15"/>
<line x1="1255.6" y1="1262.38" x2="1891" y2="1502.18" stroke="#1f77b4" stroke-width="6.2" stroke-linecap="square"/>
<line x1="1255.6" y1="1561.58" x2="1891" y2="1691.28" stroke="#ff7f0e" stroke-width="6.2" stroke-linecap="square"/>
<line x1="1255.6" y1="1588.57" x2="1891" y2="1716.06" stroke="#2ca02c" stroke-width="6.2" stroke-linecap="square"/>
<line x1="1183.9" y1="1788.5" x2="1939.17" y2="1788.5" stroke="#000" stroke-width="2.2" stroke-linecap="butt"/>
<line x1="1185" y1="1789.6" x2="1185" y2="1024.9" stroke="#000" stroke-width="2.2" stroke-linecap="butt"/>
<line x1="1185" y1="1788.5" x2="1185" y2="1798" stroke="#000" stroke-width="2.2" stroke-linecap="butt"/>
<text x="1185" y="1850.23" font-size="55.56" text-anchor="middle">2.0</text>
<line x1="1302.67" y1="1788.5" x2="1302.67" y2="1798" stroke="#000" stroke-width="2.2" stroke-linecap="butt"/>
<text x="1302.67" y="1850.23" font-size="55.56" text-anchor="middle">2.5</text>
<line x1="1420.33" y1="1788.5" x2="1420.33" y2="1798" stroke="#000" stroke-width="2.2" stroke-linecap="butt"/>
<text x="1420.33" y="1850.23" font-size="55.56" text-anchor="middle">3.0</text>
<line x1="1538" y1="1788.5" x2="1538" y2="1798" stroke="#000" stroke-width="2.2" stroke-linecap="butt"/>
<text x="1538" y="1850.23" font-size="55.56" text-anchor="middle">3.5</text>
<line x1="1655.67" y1="1788.5" x2="1655.67" y2="1798" stroke="#000" stroke-width="2.2" stroke-linecap="butt"/>
<text x="1655.67" y="1850.23" font-size="55.56" text-anchor="middle">4.0</text>
<line x1="1773.33" y1="1788.5" x2="1773.33" y2="1798" stroke="#000" stroke-width="2.2" stroke-linecap="butt"/>
<text x="1773.33" y="1850.23" font-size="55.56" text-anchor="middle">4.5</text>
<line x1="1891" y1="1788.5" x2="1891" y2="1798" stroke="#000" stroke-width="2.2" stroke-linecap="butt"/>
<text x="1891" y="1850.23" font-size="55.56" text-anchor="middle">5.0</text>
<line x1="1175.5" y1="1788.5" x2="1185" y2="1788.5" stroke="#000" stroke-width="2.2" stroke-linecap="butt"/>
<text x="1165.3" y="1809.11" font-size="55.56" text-anchor="end">0.0</text>
<line x1="1175.5" y1="1636" x2="1185" y2="1636" stroke="#000" stroke-width="2.2" stroke-linecap="butt"/>
<text x="1165.3" y="1656.61" font-size="55.56" text-anchor="end">0.2</text>
<line x1="1175.5" y1="1483.5" x2="1185" y2="1483.5" stroke="#000" stroke-width="2.2" stroke-linecap="butt"/>
<text x="1165.3" y="1504.11" font-size="55.56" text-anchor="end">0.4</text>
<line x1="1175.5" y1="1331" x2="1185" y2="1331" stroke="#000" stroke-width="2.2" stroke-linecap="butt"/>
<text x="1165.3" y="1351.61" font-size="55.56" text-anchor="end">0.6</text>
<line x1="1175.5" y1="1178.5" x2="1185" y2="1178.5" stroke="#000" stroke-width="2.2" stroke-linecap="butt"/>
<text x="1165.3" y="1199.11" font-size="55.56" text-anchor="end">0.8</text>
<line x1="1175.5" y1="1026" x2="1185" y2="1026" stroke="#000" stroke-width="2.2" stroke-linecap="butt"/>
<text x="1165.3" y="1046.61" font-size="55.56" text-anchor="end">1.0</text>
<text x="1561.53" y="1928" font-size="66.67" text-anchor="middle">Resolution (Å)</text>
<text x="1051.6" y="1407.25" font-size="66.67" text-anchor="middle" transform="rotate(-90 1051.6 1407.25)">Sequence Recall</text>
<rect x="1605.7" y="950.3" width="403.6" height="189.8" fill="#fff" stroke="#808080" stroke-width="6.2"/>
<circle cx="1633" cy="984.75" r="10.4" fill="#1f77b4" fill-opacity="0.38" stroke="#1f77b4" stroke-opacity="0.38" stroke-width="1.5"/>
<circle cx="1633" cy="1048.25" r="10.4" fill="#ff7f0e" fill-opacity="0.38" stroke="#ff7f0e" stroke-opacity="0.38" stroke-width="1.5"/>
<circle cx="1633" cy="1112" r="10.4" fill="#2ca02c" fill-opacity="0.38" stroke="#2ca02c" stroke-opacity="0.38" stroke-width="1.5"/>
<text x="1710.4" y="996" font-size="43.4" text-anchor="start">CryoREAD</text>
<text x="1710.4" y="1059.3" font-size="43.4" text-anchor="start">Phenix(Mask)</text>
<text x="1710.4" y="1123.4" font-size="43.4" text-anchor="start">Phenix</text>
</svg>
</body></html>
